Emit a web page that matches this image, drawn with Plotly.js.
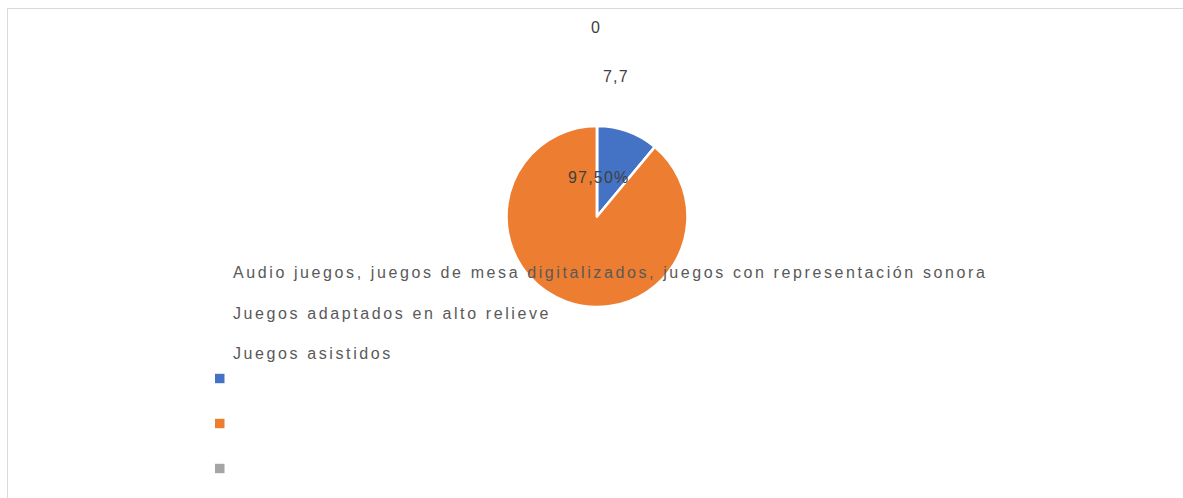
<!DOCTYPE html>
<html>
<head>
<meta charset="utf-8">
<script src="https://cdn.plot.ly/plotly-3.0.1.min.js"></script>
<style>
html,body{margin:0;padding:0;background:#fff;}
#chart{width:1183px;height:498px;}
</style>
</head>
<body>
<div id="chart"></div>
<script>
// Data
var categories = [
  "Audio juegos, juegos de mesa digitalizados, juegos con representación sonora",
  "Juegos adaptados en alto relieve",
  "Juegos asistidos"
];
var values = [12.1, 97.5, 0];
var dataLabels = ["7,7", "97,50%", "0"];
var colors = ["#4472c4", "#ed7d31", "#a5a5a5"];

var W = 1183, H = 498;
function px(x){ return x / W; }
function py(y){ return 1 - y / H; }

var cx = 597, cy = 216.5, r = 90.5;

var trace = {
  type: "pie",
  values: values,
  labels: categories,
  sort: false,
  direction: "clockwise",
  rotation: 0,
  marker: {colors: colors, line: {color: "#ffffff", width: 2.5}},
  textinfo: "none",
  hoverinfo: "label+value",
  domain: {x: [px(cx - r), px(cx + r)], y: [py(cy + r), py(cy - r)]},
  showlegend: false
};

// data label positions (blue, orange, gray)
var labelPos = [[616, 76], [598, 177], [596, 27]];
var annotations = [];
dataLabels.forEach(function(t, i){
  annotations.push({
    xref: "paper", yref: "paper",
    x: px(labelPos[i][0]), y: py(labelPos[i][1]),
    xanchor: "center", yanchor: "middle",
    text: '<span style="letter-spacing:1.2px">' + t + '</span>', showarrow: false,
    font: {family: "Liberation Sans, Arial, sans-serif", size: 16, color: "#404040"}
  });
});

// legend text lines
var legendY = [272, 313, 353];
categories.forEach(function(c, i){
  annotations.push({
    xref: "paper", yref: "paper",
    x: px(231), y: py(legendY[i]),
    xanchor: "left", yanchor: "middle",
    text: '<span style="letter-spacing:2.6px">' + c + '</span>', showarrow: false,
    font: {family: "Liberation Sans, Arial, sans-serif", size: 16, color: "#595959"}
  });
});

var shapes = [
  // chart border (top and left edges visible)
  {type: "line", xref: "paper", yref: "paper", x0: px(7.5), x1: 1, y0: py(8.5), y1: py(8.5),
   line: {color: "#d9d9d9", width: 1}, layer: "below"},
  {type: "line", xref: "paper", yref: "paper", x0: px(7.5), x1: px(7.5), y0: py(8.5), y1: 0,
   line: {color: "#d9d9d9", width: 1}, layer: "below"}
];
var squareY = [378.5, 423.5, 468.5];
colors.forEach(function(col, i){
  shapes.push({type: "rect", xref: "paper", yref: "paper",
    x0: px(215), x1: px(224.5), y0: py(squareY[i] - 4.7), y1: py(squareY[i] + 4.7),
    line: {width: 0}, fillcolor: col});
});

var layout = {
  width: W, height: H,
  margin: {l: 0, r: 0, t: 0, b: 0},
  paper_bgcolor: "#ffffff",
  plot_bgcolor: "#ffffff",
  showlegend: false,
  annotations: annotations,
  shapes: shapes
};

Plotly.newPlot("chart", [trace], layout, {displayModeBar: false, staticPlot: true});
</script>
</body>
</html>
